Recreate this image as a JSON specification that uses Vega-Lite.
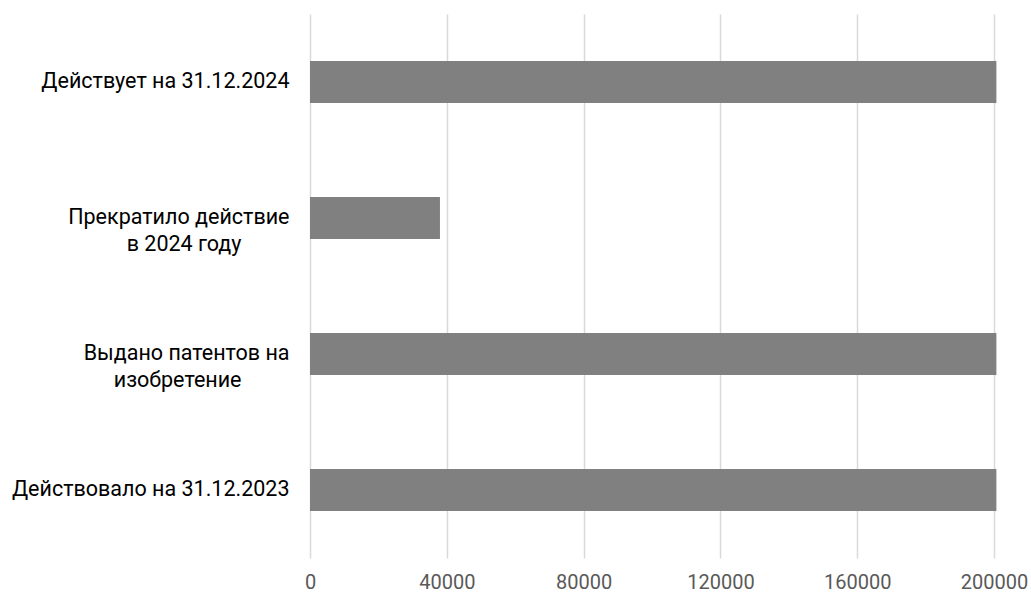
{
  "$schema": "https://vega.github.io/schema/vega-lite/v6.json",
  "autosize": "none",
  "width": 684,
  "height": 544,
  "padding": {"left": 310, "top": 14, "right": 37, "bottom": 40},
  "background": "white",
  "config": {"view": {"stroke": null}},
  "data": {
    "values": [
      {"category": "Действует на 31.12.2024", "value": 200700},
      {"category": "Прекратило действие в 2024 году", "value": 38000},
      {"category": "Выдано патентов на изобретение", "value": 200700},
      {"category": "Действовало на 31.12.2023", "value": 200700}
    ]
  },
  "mark": {"type": "bar", "color": "#808080"},
  "encoding": {
    "y": {
      "field": "category",
      "type": "nominal",
      "sort": null,
      "title": null,
      "scale": {"paddingInner": 0.69, "paddingOuter": 0.345},
      "axis": {
        "domain": false,
        "ticks": false,
        "grid": false,
        "labelFont": "Roboto",
        "labelFontSize": 21.5,
        "labelColor": "#000000",
        "labelPadding": 21,
        "labelLimit": 400,
        "labelLineHeight": 27,
        "labelExpr": "datum.label == 'Прекратило действие в 2024 году' ? ['Прекратило действие', 'в 2024 году\u2800\u2800\u2800'] : datum.label == 'Выдано патентов на изобретение' ? ['Выдано патентов на', 'изобретение\u2800\u2800\u2800'] : datum.label"
      }
    },
    "x": {
      "field": "value",
      "type": "quantitative",
      "title": null,
      "scale": {"domain": [0, 200000], "nice": false},
      "axis": {
        "values": [0, 40000, 80000, 120000, 160000, 200000],
        "format": "d",
        "domain": false,
        "ticks": false,
        "grid": true,
        "gridColor": "#d9d9d9",
        "gridWidth": 1.5,
        "labelFont": "Roboto",
        "labelFontSize": 20,
        "labelColor": "#595959",
        "labelPadding": 14,
        "labelFlush": false
      }
    }
  }
}
